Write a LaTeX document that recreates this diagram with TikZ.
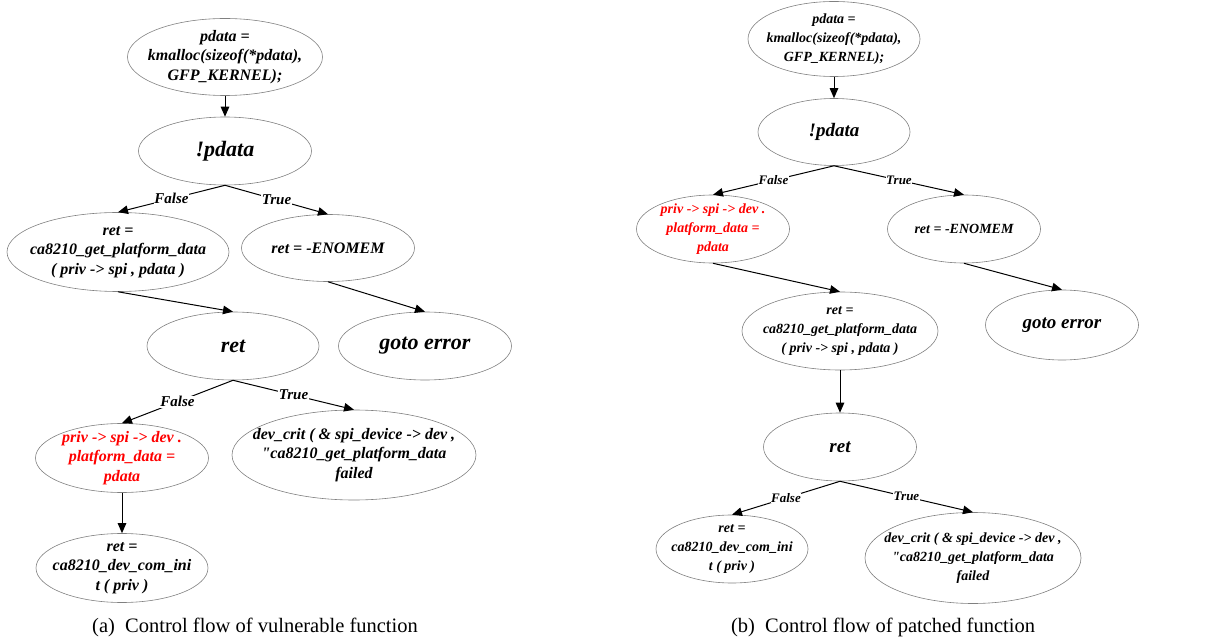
\documentclass[tikz,border=0pt]{standalone}
\usepackage{fontspec}
\setmainfont{Liberation Serif}
\usetikzlibrary{shapes.geometric,arrows.meta}
\tikzset{
  blk/.style={ellipse, draw=gray, line width=0.6pt, align=center, inner xsep=-40pt, inner ysep=-20pt},
  txtL/.style={font=\rmfamily\bfseries\itshape\fontsize{16}{19.5}\selectfont},
  bigL/.style={font=\rmfamily\bfseries\itshape\fontsize{22}{26}\selectfont},
  lblL/.style={fill=white, inner sep=0.5pt, font=\rmfamily\bfseries\itshape\fontsize{15}{18}\selectfont},
  txtR/.style={font=\rmfamily\bfseries\itshape\fontsize{14}{19}\selectfont},
  bigR/.style={font=\rmfamily\bfseries\itshape\fontsize{19}{23}\selectfont},
  lblR/.style={fill=white, inner sep=0.5pt, font=\rmfamily\bfseries\itshape\fontsize{13}{16}\selectfont},
  flow/.style={-{Triangle[length=10pt,width=8.5pt]}, line width=1pt},
  captxt/.style={font=\rmfamily\fontsize{20.5}{24}\selectfont}
}
\begin{document}
\begin{tikzpicture}[x=1pt,y=-1pt]
\useasboundingbox (0,0) rectangle (1219,644);
\node[blk, txtL, minimum width=195pt, minimum height=77pt] (A1) at (225,57) {pdata =\\kmalloc(sizeof(*pdata),\\GFP\_KERNEL);};
\node[blk, bigL, minimum width=173pt, minimum height=68pt] (A2) at (225,151) {!pdata};
\node[blk, txtL, minimum width=222pt, minimum height=79pt] (A3) at (118,252) {ret =\\ca8210\_get\_platform\_data\\( priv -> spi , pdata )};
\node[blk, txtL, minimum width=173pt, minimum height=67pt] (A4) at (328,248) {ret = -ENOMEM};
\node[blk, bigL, minimum width=172pt, minimum height=68pt] (A5) at (233,346) {ret};
\node[blk, bigL, minimum width=173pt, minimum height=68pt] (A6) at (425,346) {goto error};
\node[blk, txtL, text=red, minimum width=173pt, minimum height=69pt] (A7) at (122,458) {priv -> spi -> dev .\\platform\_data =\\pdata};
\node[blk, txtL, minimum width=244pt, minimum height=90pt] (A8) at (354,455) {dev\_crit ( \& spi\_device -> dev ,\\\textquotedbl ca8210\_get\_platform\_data\\failed};
\node[blk, txtL, minimum width=172pt, minimum height=69pt] (A9) at (122,568) {ret =\\ca8210\_dev\_com\_ini\\t ( priv )};
\node[captxt] (capA) at (255,627) {(a)\enspace Control flow of vulnerable function};
\draw[flow] (A1.south) -- (A2.north);
\draw[flow] (A2.south) -- node[lblL] {False} (A3.north);
\draw[flow] (A2.south) -- node[lblL] {True} (A4.north);
\draw[flow] (A3.south) -- (A5.north);
\draw[flow] (A4.south) -- (A6.north);
\draw[flow] (A5.south) -- node[lblL] {False} (A7.north);
\draw[flow] (A5.south) -- node[lblL] {True} (A8.north);
\draw[flow] (A7.south) -- (A9.north);

\node[blk, txtR, minimum width=172pt, minimum height=75pt] (B1) at (834,39) {pdata =\\kmalloc(sizeof(*pdata),\\GFP\_KERNEL);};
\node[blk, bigR, minimum width=152pt, minimum height=67pt] (B2) at (834,132) {!pdata};
\node[blk, txtR, text=red, minimum width=153pt, minimum height=68pt] (B3) at (713,229) {priv -> spi -> dev .\\platform\_data =\\pdata};
\node[blk, txtR, minimum width=153pt, minimum height=68pt] (B4) at (964,229) {ret = -ENOMEM};
\node[blk, txtR, minimum width=196pt, minimum height=78pt] (B5) at (840,331) {ret =\\ca8210\_get\_platform\_data\\( priv -> spi , pdata )};
\node[blk, bigR, minimum width=153pt, minimum height=70pt] (B6) at (1062,325) {goto error};
\node[blk, bigR, minimum width=153pt, minimum height=68pt] (B7) at (840,447) {ret};
\node[blk, txtR, minimum width=152pt, minimum height=68pt] (B8) at (732,549) {ret =\\ca8210\_dev\_com\_ini\\t ( priv )};
\node[blk, txtR, minimum width=216pt, minimum height=91pt] (B9) at (973,558) {dev\_crit ( \& spi\_device -> dev ,\\\textquotedbl ca8210\_get\_platform\_data\\failed};
\node[captxt] (capB) at (883,627) {(b)\enspace Control flow of patched function};
\draw[flow] (B1.south) -- (B2.north);
\draw[flow] (B2.south) -- node[lblR] {False} (B3.north);
\draw[flow] (B2.south) -- node[lblR] {True} (B4.north);
\draw[flow] (B3.south) -- (B5.north);
\draw[flow] (B4.south) -- (B6.north);
\draw[flow] (B5.south) -- (B7.north);
\draw[flow] (B7.south) -- node[lblR] {False} (B8.north);
\draw[flow] (B7.south) -- node[lblR] {True} (B9.north);
\end{tikzpicture}
\end{document}
